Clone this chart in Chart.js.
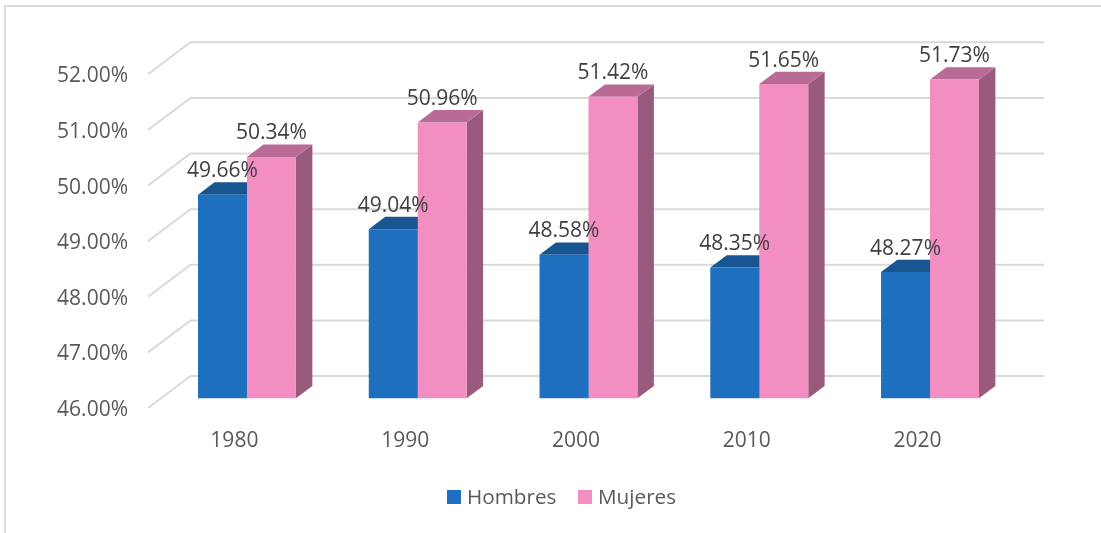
<!DOCTYPE html>
<html>
<head>
<meta charset="utf-8">
<style>html,body{margin:0;padding:0;background:#fff}canvas{display:block}</style>
<script src="https://cdn.jsdelivr.net/npm/chart.js@4/dist/chart.umd.min.js"></script>
</head>
<body>
<canvas id="c" width="1101" height="533"></canvas>
<script>
const categories = ['1980', '1990', '2000', '2010', '2020'];
const hombres = [49.66, 49.04, 48.58, 48.35, 48.27];
const mujeres = [50.34, 50.96, 51.42, 51.65, 51.73];
const yTicks = [46, 47, 48, 49, 50, 51, 52];

const FONT = '"Open Sans"';
const FONT_SIZE = 21;
const wall = { dx: 42.5, dy: -32 };
const barShift = { dx: 13.6, dy: -9.7 };
const barDepth = { dx: 16.4, dy: -12.4 };
const colors = {
  hombres: { front: '#1E70BF', top: '#185591', side: '#185591' },
  mujeres: { front: '#F38EC3', top: '#B96B96', side: '#995A7D' }
};
const faces = [colors.hombres, colors.mujeres];

function poly(ctx, pts, fill) {
  ctx.beginPath();
  pts.forEach((p, i) => i ? ctx.lineTo(p[0], p[1]) : ctx.moveTo(p[0], p[1]));
  ctx.closePath();
  ctx.fillStyle = fill;
  ctx.fill();
}

const threeD = {
  id: 'threeD',
  beforeDatasetsDraw(chart) {
    const { ctx, chartArea: a, scales: { y } } = chart;
    ctx.save();
    // frame
    ctx.strokeStyle = '#DCDCDC';
    ctx.lineWidth = 2;
    ctx.beginPath();
    ctx.moveTo(5, 533); ctx.lineTo(5, 6); ctx.lineTo(1101, 6);
    ctx.stroke();
    // walls
    ctx.strokeStyle = '#D9D9D9';
    yTicks.forEach(v => {
      const py = y.getPixelForValue(v);
      ctx.beginPath();
      ctx.moveTo(a.left, py);
      ctx.lineTo(a.left + wall.dx, py + wall.dy);
      ctx.lineTo(a.right + wall.dx, py + wall.dy);
      ctx.stroke();
    });
    // depth faces of the bars
    chart.data.datasets.forEach((ds, i) => {
      chart.getDatasetMeta(i).data.forEach(b => {
        const l = b.x - b.width / 2 + barShift.dx, r = b.x + b.width / 2 + barShift.dx;
        const t = b.y + barShift.dy, bt = b.base + barShift.dy;
        const dx = barDepth.dx, dy = barDepth.dy;
        poly(ctx, [[r, t], [r + dx, t + dy], [r + dx, bt + dy], [r, bt]], faces[i].side);
        poly(ctx, [[l, t], [l + dx, t + dy], [r + dx, t + dy], [r, t]], faces[i].top);
      });
    });
    ctx.restore();
    ctx.save();
    ctx.translate(barShift.dx, barShift.dy);
  },
  afterDatasetsDraw(chart) {
    const { ctx } = chart;
    ctx.restore();
    ctx.save();
    ctx.font = FONT_SIZE + 'px ' + FONT;
    ctx.fillStyle = '#404040';
    ctx.textAlign = 'center';
    ctx.textBaseline = 'middle';
    chart.data.datasets.forEach((ds, i) => {
      chart.getDatasetMeta(i).data.forEach((b, j) => {
        ctx.fillText(ds.data[j].toFixed(2) + '%', b.x + barShift.dx, b.y + barShift.dy - 23.5);
      });
    });
    ctx.restore();
  },
  afterDraw(chart) {
    const { ctx } = chart;
    ctx.save();
    ctx.font = '20.7px ' + FONT;
    ctx.textBaseline = 'middle';
    let x = 447;
    chart.data.datasets.forEach((ds, i) => {
      ctx.fillStyle = ds.backgroundColor;
      ctx.fillRect(x, 490, 14, 14);
      ctx.fillStyle = '#595959';
      ctx.fillText(ds.label, x + 20, 498);
      x += 131;
    });
    ctx.restore();
  }
};

new Chart(document.getElementById('c'), {
  type: 'bar',
  data: {
    labels: categories,
    datasets: [
      { label: 'Hombres', data: hombres, base: yTicks[0], backgroundColor: colors.hombres.front, clip: false },
      { label: 'Mujeres', data: mujeres, base: yTicks[0], backgroundColor: colors.mujeres.front, clip: false }
    ]
  },
  plugins: [threeD],
  options: {
    responsive: false,
    animation: false,
    layout: { padding: { left: 0, right: 99.2, top: 74.3, bottom: 0 } },
    categoryPercentage: 0.5735,
    barPercentage: 1,
    plugins: { legend: { display: false }, tooltip: { enabled: false } },
    scales: {
      x: {
        grid: { display: false, drawTicks: false },
        border: { display: false },
        ticks: { color: '#595959', font: { family: FONT, size: FONT_SIZE }, padding: 20, maxRotation: 0, labelOffset: 1 },
        afterFit(s) { s.height = 125; }
      },
      y: {
        min: 46, max: 52,
        grid: { display: false, drawTicks: false },
        border: { display: false },
        ticks: {
          stepSize: 1, color: '#595959', padding: 20, labelOffset: 2,
          font: { family: FONT, size: FONT_SIZE },
          callback: v => v.toFixed(2) + '%'
        },
        afterFit(s) { s.width = 148; }
      }
    }
  }
});
</script>
</body>
</html>
